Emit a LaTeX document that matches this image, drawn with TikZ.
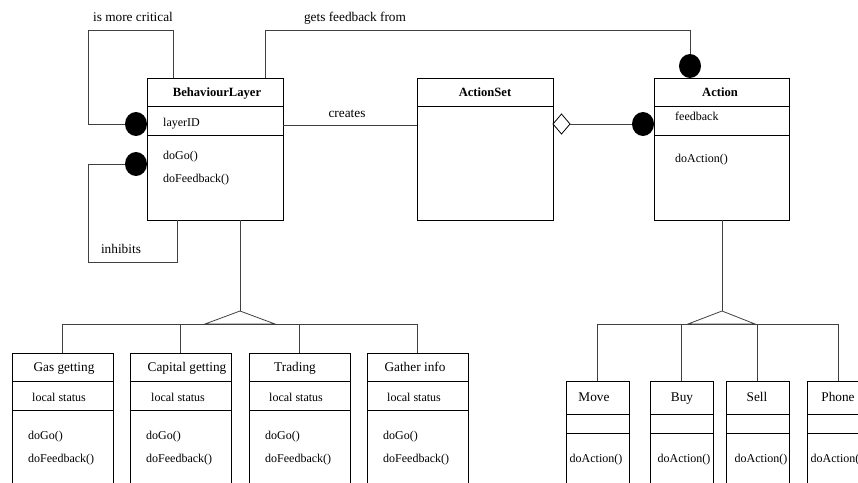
\documentclass[tikz,border=0pt]{standalone}
\usepackage{fontspec}
\setmainfont{Liberation Serif}
\usetikzlibrary{shapes.geometric,calc}
\begin{document}
\begin{tikzpicture}[x=1pt,y=-1pt,
  cls/.style={draw=black, line width=0.9pt, inner sep=0pt, outer sep=0pt, anchor=north west},
  divl/.style={draw=black, line width=0.9pt},
  conn/.style={draw=black!75, line width=0.8pt},
  lbl/.style={font=\fontsize{13.3}{15}\selectfont, inner sep=0pt, anchor=base},
  ttl/.style={font=\bfseries\fontsize{12.6}{15}\selectfont, inner sep=0pt, anchor=base},
  attr/.style={font=\fontsize{12}{14}\selectfont, inner sep=0pt, anchor=base},
  attrw/.style={attr, anchor=base west},
  ball/.style={ellipse, fill=black, minimum width=22pt, minimum height=24pt, inner sep=0pt, outer sep=0pt},
  diam/.style={diamond, draw=black, line width=0.8pt, fill=white, minimum width=17pt, minimum height=20pt, inner sep=0pt, outer sep=0pt},
]
\useasboundingbox (0,0) rectangle (858,482);
\clip (0,0) rectangle (858,482);

% ---------- main classes ----------
\node[cls, minimum width=136pt, minimum height=142pt] (bl) at (147,78) {};
\draw[divl] (bl.west |- 0,106) -- (bl.east |- 0,106);
\draw[divl] (bl.west |- 0,135) -- (bl.east |- 0,135);
\node[ttl] (blt) at (217,96) {BehaviourLayer};
\node[attrw] (bla) at (163,126) {layerID};
\node[attrw] (blm1) at (163,159) {doGo()};
\node[attrw] (blm2) at (163,182) {doFeedback()};

\node[cls, minimum width=136pt, minimum height=142pt] (as) at (417,78) {};
\draw[divl] (as.west |- 0,106) -- (as.east |- 0,106);
\node[ttl] (ast) at (485,96) {ActionSet};

\node[cls, minimum width=135pt, minimum height=142pt] (ac) at (654,78) {};
\draw[divl] (ac.west |- 0,106) -- (ac.east |- 0,106);
\draw[divl] (ac.west |- 0,135) -- (ac.east |- 0,135);
\node[ttl] (act) at (720,96) {Action};
\node[attrw] (aca) at (675,120) {feedback};
\node[attrw] (acm) at (675,162) {doAction()};

% ---------- behaviour sub classes ----------
\foreach \n/\x/\tx/\lx/\t in {g1/12/64/59/Gas getting, g2/130/187/178/Capital getting, g3/249/295/296/Trading, g4/367/415/414/Gather info}{
  \node[cls, minimum width=101pt, minimum height=147pt] (\n) at (\x,353) {};
  \draw[divl] (\n.west |- 0,381) -- (\n.east |- 0,381);
  \draw[divl] (\n.west |- 0,410) -- (\n.east |- 0,410);
  \node[lbl] (\n t) at (\tx,371) {\t};
  \node[attr] (\n a) at (\lx,401) {local status};
  \node[attrw] (\n m1) at ($(\n.north west)+(16,86)$) {doGo()};
  \node[attrw] (\n m2) at ($(\n.north west)+(16,109)$) {doFeedback()};
}

% ---------- action sub classes ----------
\foreach \n/\x/\tx/\mx/\t in {a1/566/594/596/Move, a2/650/682/684/Buy, a3/726/757/761/Sell, a4/807/838/837/Phone}{
  \node[cls, minimum width=63pt, minimum height=119pt] (\n) at (\x,381) {};
  \draw[divl] (\n.west |- 0,414) -- (\n.east |- 0,414);
  \draw[divl] (\n.west |- 0,433) -- (\n.east |- 0,433);
  \node[lbl] (\n t) at (\tx,401) {\t};
  \node[attr] (\n m) at (\mx,462) {doAction()};
}

% ---------- association ends ----------
\node[ball, anchor=east] (b1) at (bl.west |- 0,124) {};
\node[ball, anchor=east] (b2) at (bl.west |- 0,164) {};
\node[ball, anchor=south] (b3) at (690,78) {};
\node[ball, anchor=east] (b4) at (ac.west |- 0,124) {};
\node[diam, anchor=west] (d1) at (as.east |- 0,124) {};

% is more critical
\coordinate (m1) at (173,30);
\coordinate (m2) at (88,30);
\draw[conn] (bl.north -| m1) -- (m1) -- (m2) |- (b1.west);
\node[lbl] (lm) at (133,21) {is more critical};

% inhibits
\coordinate (i1) at (88,262);
\coordinate (i2) at (177,262);
\draw[conn] (b2.west) -| (i1) -- (i2) -- (bl.south -| i2);
\node[lbl] (li) at (121,253) {inhibits};

% creates
\draw[conn] (bl.east |- 0,125) -- (as.west |- 0,125);
\node[lbl] (lc) at (347,117) {creates};

% gets feedback from
\coordinate (f1) at (265,30);
\draw[conn] (bl.north -| f1) -- (f1) -| (b3.north);
\node[lbl] (lf) at (355,21) {gets feedback from};

% aggregation
\draw[conn] (d1.east) -- (b4.west);

% generalisation BehaviourLayer
\coordinate (ap1) at (240,311);
\draw[conn] (bl.south -| ap1) -- (ap1);
\draw[conn] (ap1) -- (205,324) -- (275,324) -- cycle;
\draw[conn] (g1.north) |- (g4.north |- 0,324) -- (g4.north);
\draw[conn] (g2.north) -- (g2.north |- 0,324);
\draw[conn] (g3.north) -- (g3.north |- 0,324);

% generalisation Action
\coordinate (ap2) at (722,311);
\draw[conn] (ac.south -| ap2) -- (ap2);
\draw[conn] (ap2) -- (688,324) -- (755,324) -- cycle;
\draw[conn] (a1.north) |- (a4.north |- 0,324) -- (a4.north);
\draw[conn] (a2.north) -- (a2.north |- 0,324);
\draw[conn] (a3.north) -- (a3.north |- 0,324);
\end{tikzpicture}
\end{document}
